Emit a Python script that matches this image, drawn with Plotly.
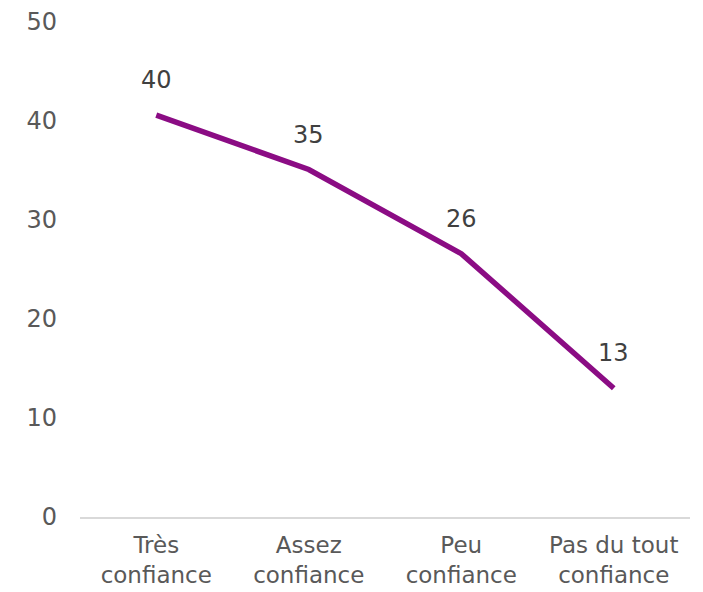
import plotly.graph_objects as go

categories = ["Très<br>confiance", "Assez<br>confiance", "Peu<br>confiance", "Pas du tout<br>confiance"]
values = [40.6, 35.1, 26.6, 13.0]
labels = ["40", "35", "26", "13"]
y_ticks = [0, 10, 20, 30, 40, 50]

FONT = "DejaVu Sans"
FS = 24

fig = go.Figure()
fig.add_trace(go.Scatter(
    x=categories, y=values, mode="lines",
    line=dict(color="#8B0C84", width=5.5),
    cliponaxis=False, showlegend=False, hoverinfo="skip",
))
for c, v, t in zip(categories, values, labels):
    fig.add_annotation(x=c, y=v, text=t, showarrow=False, yshift=35,
                       yanchor="middle", xanchor="center",
                       font=dict(family=FONT, size=FS, color="#404040"))

fig.update_layout(
    width=695, height=584,
    margin=dict(l=72, r=13, t=14, b=75),
    paper_bgcolor="white", plot_bgcolor="white",
    font=dict(family=FONT, size=FS, color="#595959"),
)
fig.update_xaxes(showgrid=False, showline=True, linecolor="#d9d9d9", linewidth=1.5,
                 ticks="", automargin=False, ticklabelstandoff=7,
                 tickfont=dict(family=FONT, size=23, color="#595959"),
                 range=[-0.5, 3.5])
fig.update_yaxes(range=[0, 50], tickvals=y_ticks, showgrid=False, zeroline=False,
                 showline=False, ticks="", ticklabelstandoff=22, automargin=False,
                 tickfont=dict(family=FONT, size=FS, color="#595959"))
fig.write_html("out.html")
